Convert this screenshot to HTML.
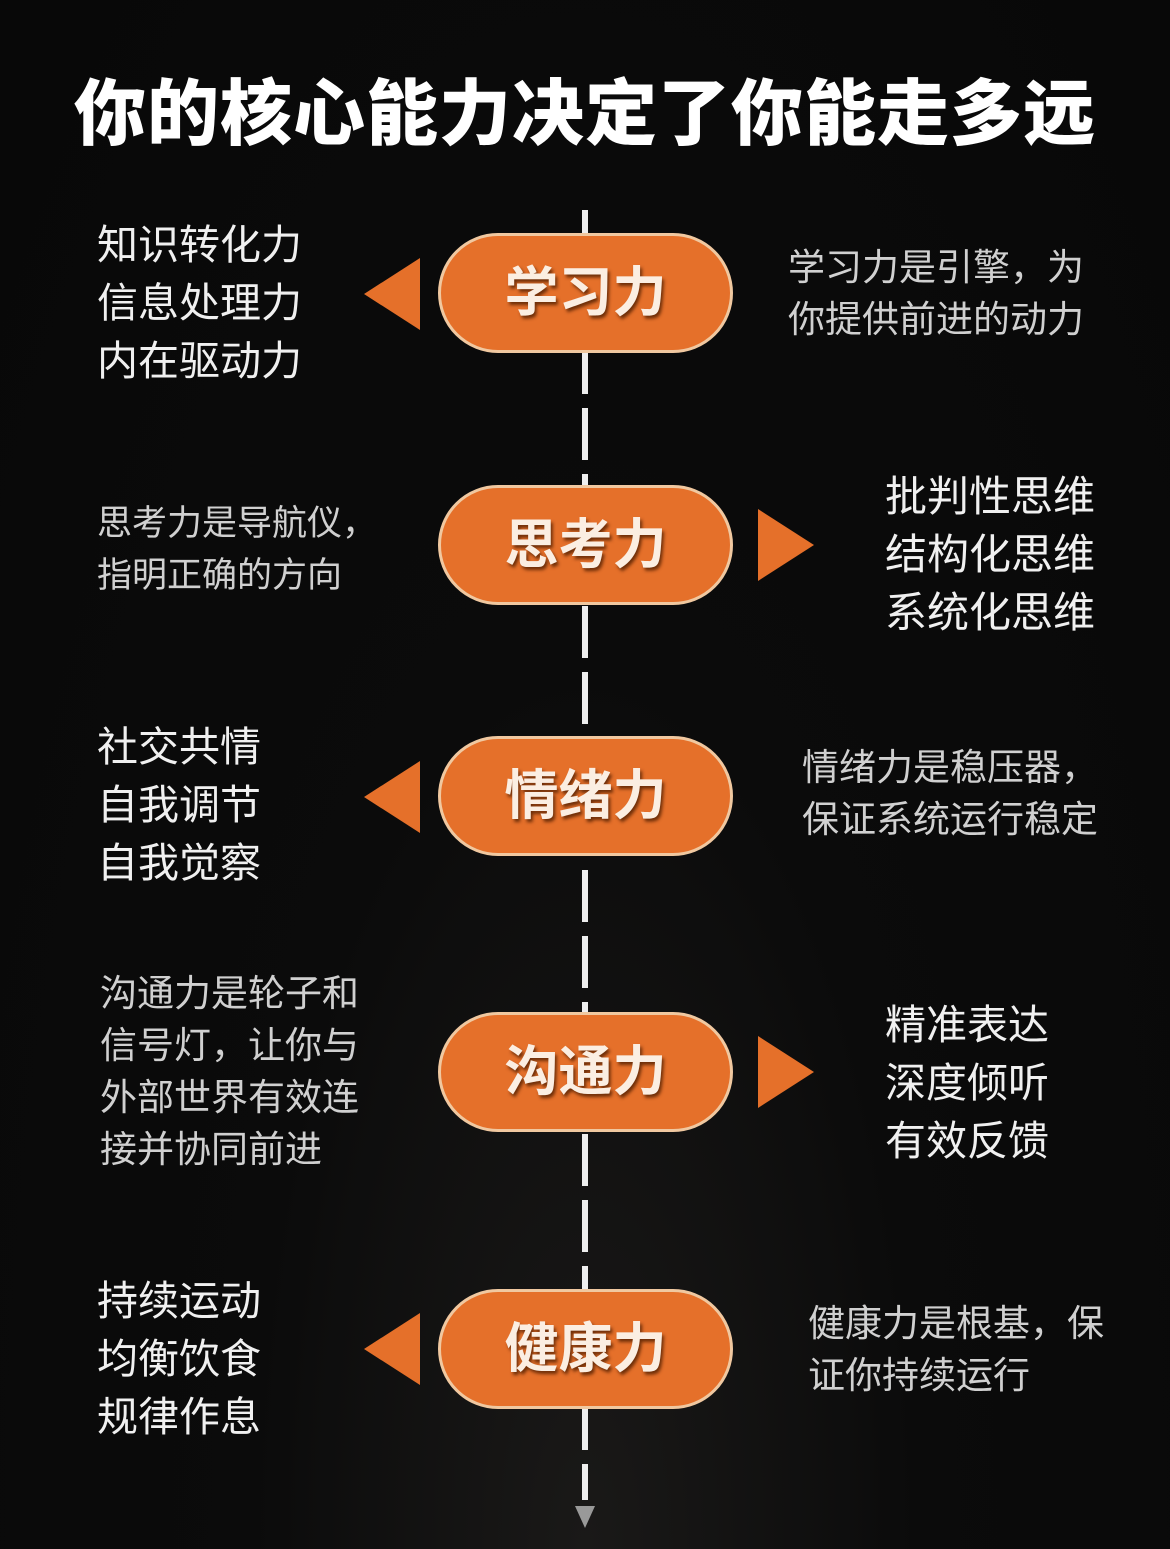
<!DOCTYPE html>
<html><head><meta charset="utf-8"><style>
body{margin:0;width:1170px;height:1549px;background:radial-gradient(ellipse at 50% 100%,#1a1918 0%,#0b0b0b 40%,#080808 100%);position:relative;overflow:hidden;font-family:"Liberation Sans","Noto Sans CJK SC",sans-serif;color:#fff}
.t{position:absolute;left:0;width:1170px;top:70px;text-align:center;font-size:72px;font-weight:900;letter-spacing:1px;line-height:90px}
.line{position:absolute;left:582px;width:6px;top:210px;height:1290px;background:repeating-linear-gradient(to bottom,#eee 0 52px,transparent 52px 66px)}
.arr{position:absolute;left:575px;top:1506px;width:0;height:0;border-left:10px solid transparent;border-right:10px solid transparent;border-top:22px solid #999}
.p{position:absolute;left:438px;width:289px;height:114px;border:3px solid #f0c8a0;border-radius:60px;background:#e5702a;text-align:center;line-height:114px;font-size:54px;font-weight:700;color:#fbeee2;text-shadow:2px 3px 3px rgba(80,30,0,.8)}
.tl,.tr{position:absolute;width:0;height:0;border-top:36px solid transparent;border-bottom:36px solid transparent}
.tl{left:364px;border-right:56px solid #e5702a}
.tr{left:758px;border-left:56px solid #e5702a}
.l{position:absolute;left:97px;font-size:41px;line-height:58px;color:#f0f0f0}
.d{position:absolute;font-size:37px;line-height:52px;color:#d0d0d0}
</style></head><body>
<div class="t">你的核心能力决定了你能走多远</div>
<div class="line"></div><div class="arr"></div>

<div class="p" style="top:233px">学习力</div>
<div class="tl" style="top:258px"></div>
<div class="l" style="top:216px">知识转化力<br>信息处理力<br>内在驱动力</div>
<div class="d" style="left:788px;top:242px">学习力是引擎，为<br>你提供前进的动力</div>

<div class="p" style="top:485px">思考力</div>
<div class="tr" style="top:509px"></div>
<div class="d" style="left:97px;top:498px;font-size:35px">思考力是导航仪，<br>指明正确的方向</div>
<div class="l" style="left:885px;top:468px;font-size:42px">批判性思维<br>结构化思维<br>系统化思维</div>

<div class="p" style="top:736px">情绪力</div>
<div class="tl" style="top:761px"></div>
<div class="l" style="top:718px">社交共情<br>自我调节<br>自我觉察</div>
<div class="d" style="left:802px;top:742px">情绪力是稳压器，<br>保证系统运行稳定</div>

<div class="p" style="top:1012px">沟通力</div>
<div class="tr" style="top:1036px"></div>
<div class="d" style="left:100px;top:968px">沟通力是轮子和<br>信号灯，让你与<br>外部世界有效连<br>接并协同前进</div>
<div class="l" style="left:885px;top:996px">精准表达<br>深度倾听<br>有效反馈</div>

<div class="p" style="top:1289px">健康力</div>
<div class="tl" style="top:1313px"></div>
<div class="l" style="top:1272px">持续运动<br>均衡饮食<br>规律作息</div>
<div class="d" style="left:808px;top:1298px">健康力是根基，保<br>证你持续运行</div>
</body></html>
